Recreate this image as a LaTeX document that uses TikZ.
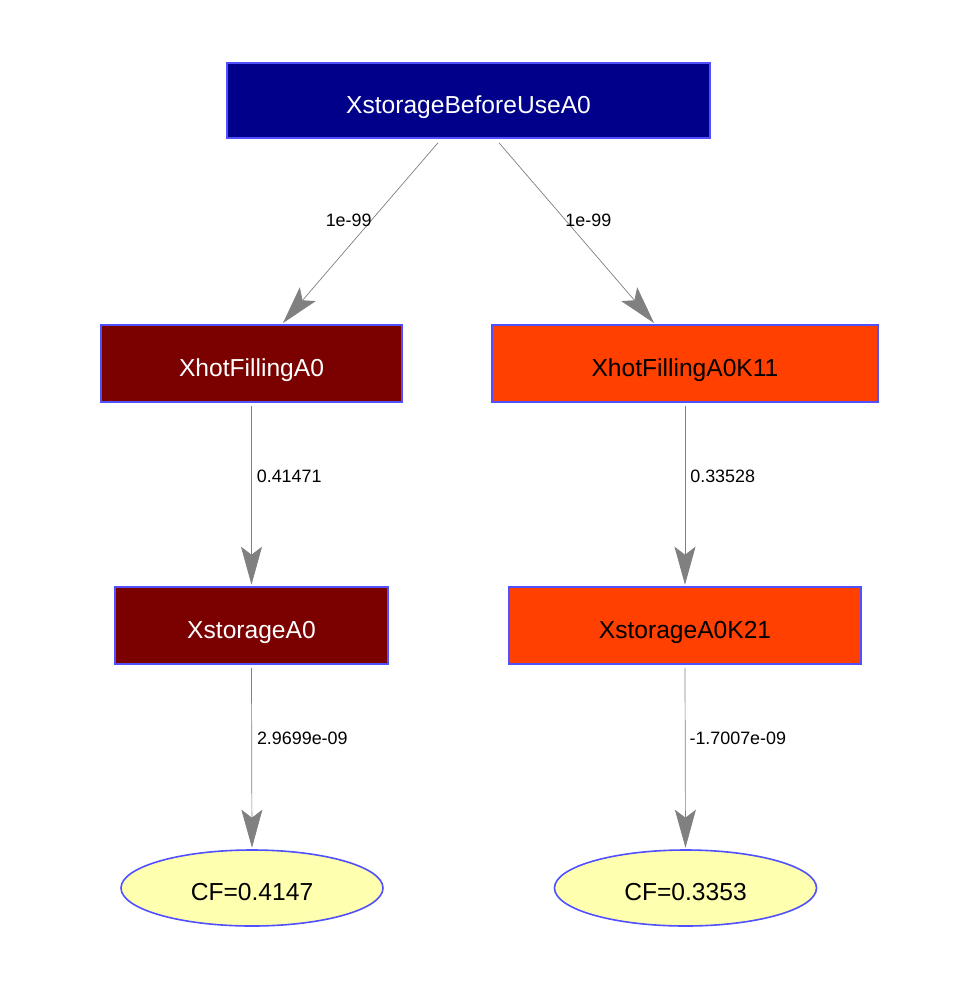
\documentclass[tikz,border=0pt]{standalone}
\usepackage{fontspec}
\setmainfont{Liberation Sans}
\usetikzlibrary{arrows.meta,shapes.geometric}
\definecolor{bordblue}{RGB}{80,80,255}
\definecolor{topfill}{RGB}{0,0,139}
\definecolor{maroonfill}{RGB}{123,0,0}
\definecolor{orangefill}{RGB}{255,64,0}
\definecolor{cffill}{RGB}{255,255,176}
\definecolor{edgegray}{RGB}{128,128,128}
\tikzset{
  x=1pt, y=-1pt,
  box/.style={draw=bordblue, line width=1.6pt, rectangle, inner sep=0pt,
    font=\fontsize{24.6}{29}\selectfont, text height=25pt, text depth=0pt},
  cfnode/.style={draw=bordblue, line width=1.6pt, ellipse, inner sep=0pt,
    fill=cffill, text=black, minimum width=262pt, minimum height=76pt,
    font=\fontsize{24.6}{29}\selectfont, text height=24pt, text depth=0pt},
  conn/.style={draw=edgegray, line width=0.7pt,
    -{Stealth[length=38pt,width=21pt,inset=8pt,fill=edgegray]}, shorten >=1.5pt},
  elabel/.style={font=\fontsize{17.9}{21}\selectfont, text=black, inner sep=0pt}
}
\begin{document}
\begin{tikzpicture}
\useasboundingbox (0,0) rectangle (979,989);
\fill[white] (0,0) rectangle (979,989);
\node[box, fill=topfill, text=white, minimum width=483pt, minimum height=75pt] (top) at (468.5,100.5) {XstorageBeforeUseA0};
\node[box, fill=maroonfill, text=white, minimum width=301pt, minimum height=77pt] (hf) at (251.5,363.5) {XhotFillingA0};
\node[box, fill=orangefill, text=black, minimum width=386pt, minimum height=77pt] (hk) at (685,363.5) {XhotFillingA0K11};
\node[box, fill=maroonfill, text=white, minimum width=273pt, minimum height=77pt] (sa) at (251.5,625.5) {XstorageA0};
\node[box, fill=orangefill, text=black, minimum width=352pt, minimum height=77pt] (sk) at (685,625.5) {XstorageA0K21};
\node[cfnode] (cf1) at (252,888) {CF=0.4147};
\node[cfnode] (cf2) at (685.5,888) {CF=0.3353};

\draw[conn] ([xshift=-30.5pt,yshift=-4pt]top.south) -- node[elabel, pos=0.43, anchor=east, xshift=1pt] {1e-99} ([xshift=30.5pt]hf.north);
\draw[conn] ([xshift=30.5pt,yshift=-4pt]top.south) -- node[elabel, pos=0.43, anchor=west, xshift=-1pt] {1e-99} ([xshift=-30pt]hk.north);
\draw[conn] ([yshift=-3pt]hf.south) -- node[elabel, pos=0.39, anchor=west, xshift=5pt] {0.41471} (sa.north);
\draw[conn] ([yshift=-3pt]hk.south) -- node[elabel, pos=0.39, anchor=west, xshift=5pt] {0.33528} (sk.north);
\draw[conn] ([yshift=-3pt]sa.south) -- node[elabel, pos=0.39, anchor=west, xshift=5pt] {2.9699e-09} (cf1.north);
\draw[conn] ([yshift=-3pt]sk.south) -- node[elabel, pos=0.39, anchor=west, xshift=4pt] {-1.7007e-09} (cf2.north);
\end{tikzpicture}
\end{document}
